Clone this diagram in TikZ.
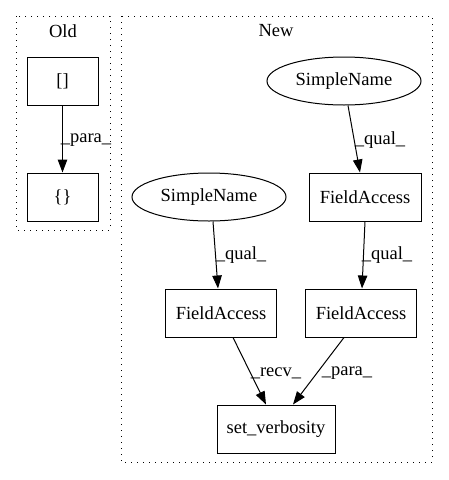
\documentclass[tikz,border=0pt]{standalone}
\usepackage{fontspec}
\setmainfont{Liberation Serif}
\usetikzlibrary{arrows.meta,shapes.geometric}
\begin{document}
\begin{tikzpicture}[x=1pt,y=-1pt,
  every node/.style={font=\fontsize{18.5pt}{21pt}\selectfont},
  box/.style={draw,line width=1pt,minimum height=48pt,inner sep=0pt},
  ell/.style={draw,ellipse,line width=1pt,minimum width=154pt,minimum height=48pt,inner sep=0pt},
  edge/.style={draw,line width=1pt,-{Triangle[length=13pt,width=9.5pt]}},
  lbl/.style={inner sep=0pt},
  cluster/.style={draw,line width=1pt,dash pattern=on 1pt off 5pt}]
\useasboundingbox (0,0) rectangle (448,480);
% clusters
\draw[cluster] (16,16) rectangle (110,230);
\draw[cluster] (121,16) rectangle (432,462);
\node (oldlbl) at (63,31) {Old};
\node (newlbl) at (276,31) {New};
% Old nodes
\node[box,minimum width=71pt] (br) at (62.5,81) {[]};
\node[box,minimum width=71pt] (cu) at (62.5,197) {\{\}};
\draw[edge] (br) -- (cu);
\node[lbl] (p0) at (86,140) {\_para\_};
% New nodes
\node[ell] (sn1) at (344,81) {SimpleName};
\node[box,minimum width=112pt] (fa1) at (365,197) {FieldAccess};
\node[ell] (sn2) at (209,197) {SimpleName};
\node[box,minimum width=111pt] (fa2) at (221,313) {FieldAccess};
\node[box,minimum width=111pt] (fa3) at (361,313) {FieldAccess};
\node[box,minimum width=118pt] (sv) at (276,429) {set\_verbosity};
\draw[edge] (sn1.south -| 348,0) -- (fa1.north -| 360,0);
\node[lbl] (q1) at (380,140) {\_qual\_};
\draw[edge] (sn2.south -| 213,0) -- (fa2.north -| 218,0);
\node[lbl] (q2) at (241,255) {\_qual\_};
\draw[edge] (fa1.south -| 365,0) -- (fa3.north -| 362,0);
\node[lbl] (q3) at (387,255) {\_qual\_};
\draw[edge] (fa2.south -| 233,0) -- (sv.north -| 266,0);
\node[lbl] (r1) at (276,373) {\_recv\_};
\draw[edge] (fa3.south -| 344,0) -- (sv.north -| 293,0);
\node[lbl] (p1) at (347,373) {\_para\_};
\end{tikzpicture}
\end{document}
